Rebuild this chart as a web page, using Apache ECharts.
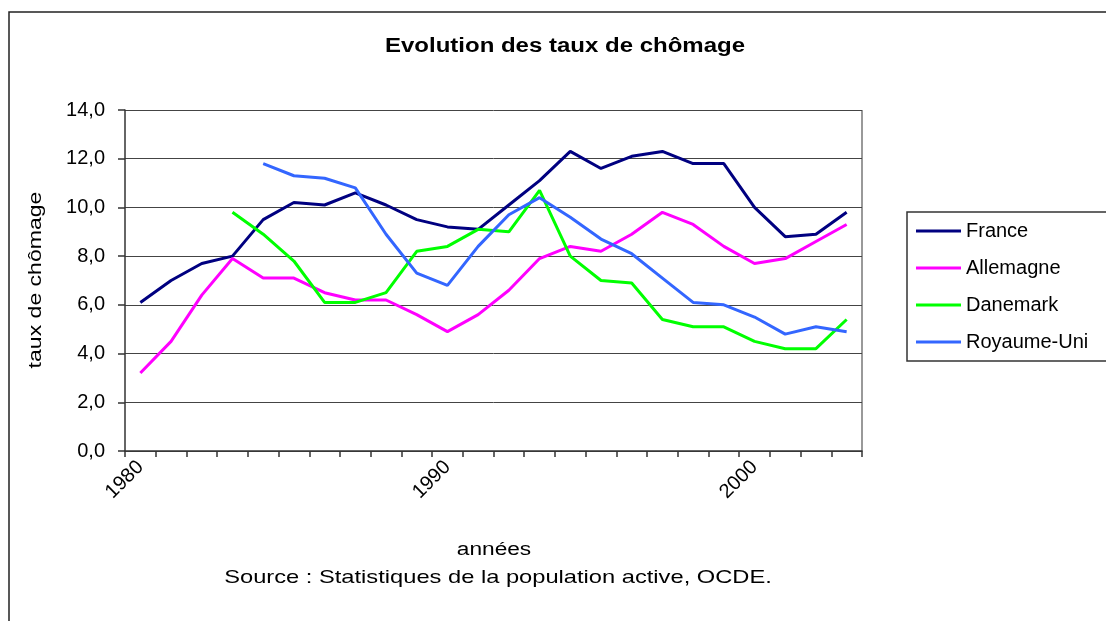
<!DOCTYPE html>
<html>
<head>
<meta charset="utf-8">
<script src="https://cdn.jsdelivr.net/npm/echarts@6/dist/echarts.min.js"></script>
<style>
html,body{margin:0;padding:0;background:#fff;}
#c{width:1106px;height:621px;}
</style>
</head>
<body>
<div id="c"></div>
<script>
const years = ['1980','1981','1982','1983','1984','1985','1986','1987','1988','1989','1990','1991','1992','1993','1994','1995','1996','1997','1998','1999','2000','2001','2002','2003'];
const france = [6.1,7.0,7.7,8.0,9.5,10.2,10.1,10.6,10.1,9.5,9.2,9.1,10.1,11.1,12.3,11.6,12.1,12.3,11.8,11.8,10.0,8.8,8.9,9.8];
const allemagne = [3.2,4.5,6.4,7.9,7.1,7.1,6.5,6.2,6.2,5.6,4.9,5.6,6.6,7.9,8.4,8.2,8.9,9.8,9.3,8.4,7.7,7.9,8.6,9.3];
const danemark = [null,null,null,9.8,8.9,7.8,6.1,6.1,6.5,8.2,8.4,9.1,9.0,10.7,8.0,7.0,6.9,5.4,5.1,5.1,4.5,4.2,4.2,5.4];
const royaumeUni = [null,null,null,null,11.8,11.3,11.2,10.8,8.9,7.3,6.8,8.4,9.7,10.4,9.6,8.7,8.1,7.1,6.1,6.0,5.5,4.8,5.1,4.9];
const seriesNames = ['France','Allemagne','Danemark','Royaume-Uni'];
const seriesColors = ['#000080','#FF00FF','#00FF00','#3366FF'];
const yTicks = [0,2,4,6,8,10,12,14];

const FONT = 'Liberation Sans, Arial, sans-serif';
const chart = echarts.init(document.getElementById('c'));
const dataSets = [france, allemagne, danemark, royaumeUni];

chart.setOption({
  backgroundColor: '#fff',
  animation: false,
  grid: {left: 125, top: 110, right: 244, bottom: 170, show: false},
  xAxis: {
    type: 'category',
    data: years,
    boundaryGap: true,
    axisLine: {lineStyle: {color: '#333', width: 1.5}},
    axisTick: {show: true, interval: 0, length: 6, lineStyle: {color: '#333', width: 1.5}},
    axisLabel: {interval: 9, rotate: 45, margin: 13, fontSize: 20, color: '#000', fontFamily: FONT}
  },
  yAxis: {
    type: 'value',
    min: 0, max: 14, interval: 2,
    axisLine: {show: true, lineStyle: {color: '#333', width: 1.5}},
    axisTick: {show: true, length: 7, lineStyle: {color: '#333', width: 1.5}},
    splitLine: {show: true, lineStyle: {color: '#444', width: 1}},
    axisLabel: {fontSize: 20, color: '#000', fontFamily: FONT, margin: 20,
      formatter: v => v.toFixed(1).replace('.', ',')}
  },
  legend: {
    orient: 'vertical',
    left: 907, top: 212,
    padding: [9, 60, 9, 9],
    itemGap: 17,
    itemWidth: 45, itemHeight: 3,
    icon: 'rect',
    borderColor: '#333', borderWidth: 1.5,
    textStyle: {fontSize: 20, color: '#000', fontFamily: FONT, padding: [0,0,0,0]},
    data: seriesNames
  },
  series: dataSets.map((d, i) => ({
    name: seriesNames[i],
    type: 'line',
    data: d,
    symbol: 'none',
    connectNulls: false,
    lineStyle: {color: seriesColors[i], width: 3},
    itemStyle: {color: seriesColors[i]}
  })),
  graphic: [
    {type: 'rect', shape: {x: 9, y: 12, width: 1200, height: 700}, style: {fill: 'none', stroke: '#222', lineWidth: 1.5}, silent: true, z: -1},
    {type: 'line', shape: {x1: 862, y1: 110, x2: 862, y2: 451}, style: {stroke: '#999', lineWidth: 2}, silent: true},
    {type: 'text', x: 565, y: 46, scaleX: 1.2, style: {text: 'Evolution des taux de chômage', fontSize: 20, fontWeight: 'bold', fontFamily: FONT, fill: '#000', textAlign: 'center', textVerticalAlign: 'middle'}},
    {type: 'text', x: 36, y: 280, rotation: Math.PI/2, scaleX: 1.28, style: {text: 'taux de chômage', fontSize: 18, fontFamily: FONT, fill: '#000', textAlign: 'center', textVerticalAlign: 'middle'}},
    {type: 'text', x: 494, y: 550, scaleX: 1.26, style: {text: 'années', fontSize: 18, fontFamily: FONT, fill: '#000', textAlign: 'center', textVerticalAlign: 'middle'}},
    {type: 'text', x: 498, y: 578, scaleX: 1.28, style: {text: 'Source : Statistiques de la population active, OCDE.', fontSize: 18.5, fontFamily: FONT, fill: '#000', textAlign: 'center', textVerticalAlign: 'middle'}}
  ]
});
</script>
</body>
</html>
